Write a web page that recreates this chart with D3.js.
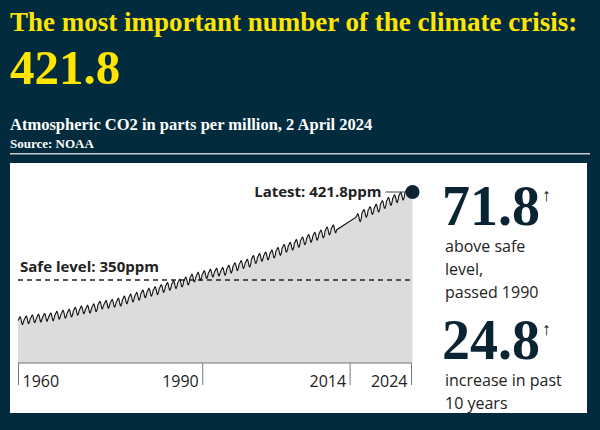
<!DOCTYPE html>
<html><head><meta charset="utf-8">
<script src="https://cdn.jsdelivr.net/npm/d3@7"></script>
<style>body{margin:0;background:#022c3d;}</style>
</head><body><div id="chart"></div>
<script>
// Mauna Loa annual means, ppm
var years = d3.range(1960, 2024);
var annual = [316.91,317.64,318.45,318.99,319.62,320.04,321.37,322.18,323.05,
  324.62,325.68,326.32,327.46,329.68,330.19,331.13,332.03,333.84,335.41,
  336.84,338.76,340.12,341.48,343.15,344.87,346.35,347.61,349.31,351.69,
  353.20,354.45,355.70,356.54,357.21,358.96,360.97,362.74,363.88,366.84,
  368.54,369.71,371.32,373.45,375.98,377.70,379.98,382.09,384.02,385.83,
  387.64,390.10,391.85,394.06,396.74,398.81,401.01,404.41,406.76,408.72,
  411.66,414.24,416.45,418.56,421.08];
// typical seasonal offset per month, Jan..Dec
var seasonal = [0.0,0.7,1.4,2.6,3.0,2.4,0.8,-1.3,-3.0,-3.2,-2.0,-0.8];
var gapYears = [2012, 2013, 2014]; // stretch drawn without the monthly wiggle
var latest = {t: 2024.25, v: 421.8};
var safeLevel = 350;
var ticks = [1960, 1990, 2014, 2024];

var data = [];
years.forEach(function(y, i) {
  seasonal.forEach(function(s, m) {
    if (gapYears.indexOf(y) >= 0) return;
    data.push({t: y + m / 12, v: annual[i] + s});
  });
});
data.push(latest);

var W = 600, H = 430;
var svg = d3.select("#chart").append("svg").attr("width", W).attr("height", H);
var serif = "'Liberation Serif', 'Times New Roman', serif", sans = "'Open Sans', 'Noto Sans', sans-serif";

svg.append("text").attr("x", 10).attr("y", 31).attr("fill", "#ffe500")
  .style("font", "bold 27px " + serif)
  .text("The most important number of the climate crisis:");
svg.append("text").attr("x", 10).attr("y", 84).attr("fill", "#ffe500")
  .style("font", "bold 49px " + serif).text("421.8");
svg.append("text").attr("x", 10).attr("y", 130).attr("fill", "#fff")
  .style("font", "bold 16.5px " + serif)
  .text("Atmospheric CO2 in parts per million, 2 April 2024");
svg.append("text").attr("x", 10).attr("y", 148).attr("fill", "#fff")
  .style("font", "bold 13px " + serif).text("Source: NOAA");
svg.append("rect").attr("x", 10).attr("y", 153).attr("width", 580).attr("height", 1.5).attr("fill", "#ccc");

svg.append("rect").attr("x", 10).attr("y", 163).attr("width", 577).attr("height", 250).attr("fill", "#fff");

var x = d3.scaleLinear().domain([1960, 2024]).range([18, 411]);
var y = d3.scaleLinear().domain([350, 421.8]).range([280, 192]);
var base = 363;

svg.append("path").datum(data).attr("fill", "#dcdcdc")
  .attr("d", d3.area().x(function(d){return x(d.t);}).y0(base).y1(function(d){return y(d.v);}));
svg.append("line").attr("x1", 18).attr("x2", 410).attr("y1", y(safeLevel)).attr("y2", y(safeLevel))
  .attr("stroke", "#222").attr("stroke-width", 1.6).attr("stroke-dasharray", "5,4");
svg.append("path").datum(data).attr("fill", "none").attr("stroke", "#111").attr("stroke-width", 1.1)
  .attr("d", d3.line().x(function(d){return x(d.t);}).y(function(d){return y(d.v);}));

svg.append("text").attr("x", 20).attr("y", 272).attr("fill", "#222")
  .style("font", "bold 15px " + sans).text("Safe level: 350ppm");

svg.append("line").attr("x1", x(latest.t) - 27).attr("x2", x(latest.t))
  .attr("y1", y(latest.v)).attr("y2", y(latest.v)).attr("stroke", "#444");
svg.append("circle").attr("cx", x(latest.t)).attr("cy", y(latest.v)).attr("r", 7).attr("fill", "#0b2433");
svg.append("text").attr("x", x(latest.t) - 31).attr("y", y(latest.v) + 5).attr("text-anchor", "end")
  .attr("fill", "#222").style("font", "bold 15px " + sans).text("Latest: 421.8ppm");

var axis = svg.append("g").attr("transform", "translate(0," + base + ")")
  .call(d3.axisBottom(x).tickValues(ticks).tickSize(22).tickFormat(d3.format("d")));
axis.select(".domain").attr("stroke", "#777").attr("d", "M18,0H411");
axis.selectAll(".tick line").attr("stroke", "#777");
axis.selectAll(".tick text").attr("y", 13).attr("dy", "0.71em")
  .attr("fill", "#222").style("font", "16px " + sans)
  .attr("text-anchor", function(d){return d === 1960 ? "start" : "end";})
  .attr("dx", function(d){return d === 1960 ? 4 : -4;});

function stat(val, yy, lines) {
  var t = svg.append("text").attr("x", 442).attr("y", yy).attr("fill", "#0b2433")
    .style("font", "bold 56px " + serif).text(val);
  var w = t.node().getComputedTextLength();
  svg.append("text").attr("x", 442 + w + 2).attr("y", yy - 24).attr("fill", "#111")
    .style("font", "18px " + sans).text("↑");
  lines.forEach(function(l, i) {
    svg.append("text").attr("x", 445).attr("y", yy + 27 + i * 23).attr("fill", "#222")
      .style("font", "16px " + sans).text(l);
  });
}
stat((latest.v - safeLevel).toFixed(1), 225, ["above safe", "level,", "passed 1990"]);
stat("24.8", 359, ["increase in past", "10 years"]);
</script></body></html>
